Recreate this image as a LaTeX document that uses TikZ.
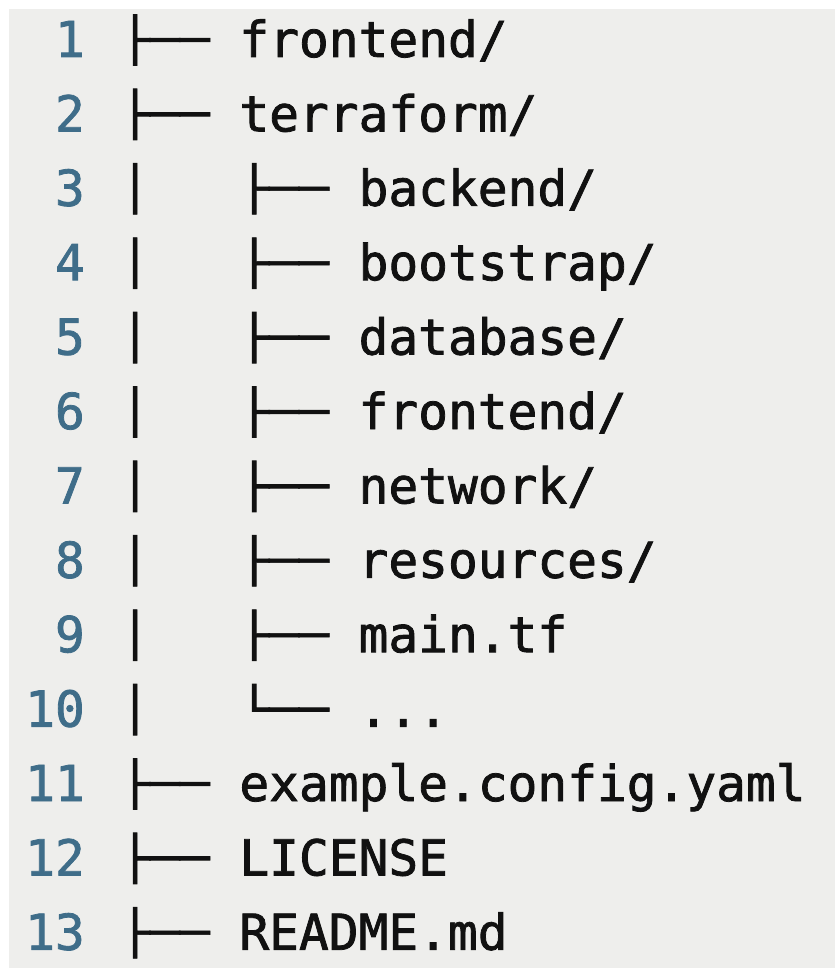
\documentclass[tikz,border=0pt]{standalone}
\usepackage{fontspec}
\usepackage{graphicx}
\newfontfamily\codefont[FakeBold=1.6]{DejaVu Sans Mono}
\definecolor{bgcol}{HTML}{EEEEEC}
\definecolor{numcol}{HTML}{3F6D89}
\definecolor{txtcol}{HTML}{111111}
\newcommand\treech[1]{\raisebox{2.2pt}{\scalebox{1}[0.87]{#1}}}
\tikzset{
  num/.style={inner sep=0pt, anchor=base east, text=numcol, font=\codefont\fontsize{49.5}{60}\selectfont},
  code/.style={inner sep=0pt, anchor=base west, text=txtcol, font=\codefont\fontsize{49.5}{60}\selectfont},
}
\begin{document}
\begin{tikzpicture}[x=1pt, y=-1pt]
\useasboundingbox (0,0) rectangle (835,968);
\fill[bgcol] (9,9) rectangle (835,968);
\foreach \i/\t in {
  1/{\treech{├──}~frontend/},
  2/{\treech{├──}~terraform/},
  3/{\treech{│}~~~\treech{├──}~backend/},
  4/{\treech{│}~~~\treech{├──}~bootstrap/},
  5/{\treech{│}~~~\treech{├──}~database/},
  6/{\treech{│}~~~\treech{├──}~frontend/},
  7/{\treech{│}~~~\treech{├──}~network/},
  8/{\treech{│}~~~\treech{├──}~resources/},
  9/{\treech{│}~~~\treech{├──}~main.tf},
  10/{\treech{│}~~~\treech{└──}~...},
  11/{\treech{├──}~example.config.yaml},
  12/{\treech{├──}~LICENSE},
  13/{\treech{├──}~README.md}}{
  \pgfmathsetmacro\yy{57+74.4*(\i-1)}
  \node[num] (n\i) at (85,\yy) {\i};
  \node[code] (l\i) at (120,\yy) {\t};
}
\end{tikzpicture}
\end{document}
